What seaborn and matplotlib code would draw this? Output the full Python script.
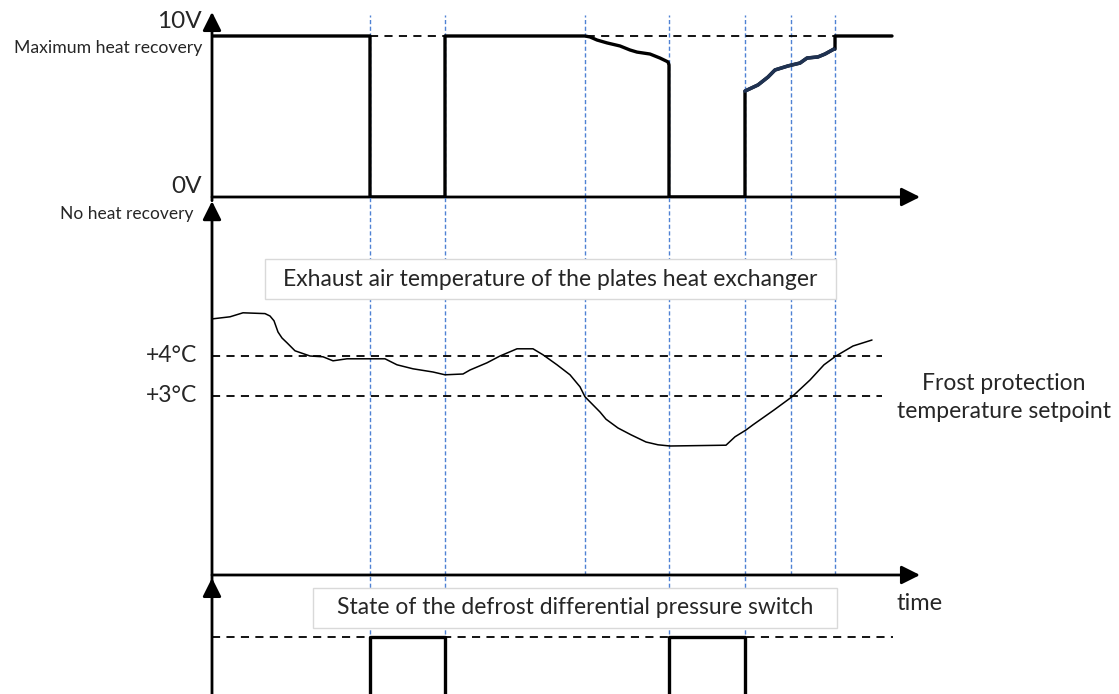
import numpy as np
import matplotlib
matplotlib.use("Agg")
import matplotlib.pyplot as plt
from matplotlib.patches import Rectangle
import seaborn as sns

# --- data (time in arbitrary units along the common time axis) ---
event_times = [158, 233, 373, 457, 533, 579, 623]
switch_event_times = [158, 233, 457, 533]

# heat recovery control signal (V)
heat_t = [0, 158, 158, 233, 233, 373, 378, 385, 395, 408, 418, 425, 438, 448, 456, 457,
          457, 533, 533, 546, 556, 563, 576, 588, 595, 606, 613, 622, 623, 623, 680]
heat_v = [10, 10, 0, 0, 10, 10, 9.94, 9.75, 9.57, 9.38, 9.13, 9.0, 8.88, 8.63, 8.39, 8.2,
          0, 0, 6.58, 6.96, 7.45, 7.89, 8.14, 8.32, 8.63, 8.70, 8.88, 9.19, 9.19, 10, 10]
ramp_t = [533, 546, 556, 563, 576, 588, 595, 606, 613, 622]
ramp_v = [6.58, 6.96, 7.45, 7.89, 8.14, 8.32, 8.63, 8.70, 8.88, 9.19]

# exhaust air temperature (deg C)
temp_t = [1, 18, 31, 53, 58, 62, 66, 70, 75, 83, 98, 111, 121, 135, 173, 185, 201, 221, 233,
          251, 258, 275, 288, 305, 321, 331, 345, 358, 368, 373, 388, 394, 406, 419, 434, 446,
          458, 514, 523, 534, 541, 562, 580, 598, 612, 624, 641, 660]
temp_c = [4.93, 4.98, 5.08, 5.06, 5.0, 4.88, 4.6, 4.45, 4.33, 4.13, 4.0, 3.98, 3.88, 3.93,
          3.93, 3.78, 3.68, 3.6, 3.53, 3.55, 3.65, 3.83, 4.0, 4.18, 4.18, 4.03, 3.78, 3.53,
          3.23, 2.98, 2.6, 2.42, 2.2, 2.03, 1.85, 1.78, 1.75, 1.77, 1.98, 2.15, 2.28, 2.65,
          2.98, 3.4, 3.78, 4.0, 4.25, 4.4]
setpoints = [4, 3]
setpoint_labels = ["+4°C", "+3°C"]

# defrost pressure switch state
switch_t = [0, 158, 158, 233, 233, 457, 457, 533, 533, 680]
switch_s = [0, 0, 1, 1, 0, 0, 1, 1, 0, 0]

sns.set_style("white")
plt.rcParams['font.family'] = ['Lato', 'DejaVu Sans']

W, H = 1119, 694
fig = plt.figure(figsize=(W / 100, H / 100), dpi=100)


def rect(x0, y0, x1, y1):
    return [x0 / W, 1 - y1 / H, (x1 - x0) / W, (y1 - y0) / H]


ax_top = fig.add_axes(rect(212, 12, 920, 197))
ax_mid = fig.add_axes(rect(212, 197, 920, 575))
ax_bot = fig.add_axes(rect(212, 575, 920, 694))

ax_top.set_ylim(0, 11.49)
ax_mid.set_ylim(-1.475, 7.975)
ax_bot.set_ylim(0.313, 1.747)

blue = "#4f82d4"
for ax in (ax_top, ax_mid, ax_bot):
    ax.set_xlim(0, 708)
    ax.set_axis_off()

# vertical event markers
bls = (0, (3, 1.8))
for t in event_times:
    ax_top.plot([t, t], [0, 11.3], color=blue, lw=1, ls=bls, zorder=1)
    ax_mid.axvline(t, color=blue, lw=1, ls=bls, zorder=1)
for t in switch_event_times:
    ax_bot.axvline(t, color=blue, lw=1, ls=bls, zorder=1)

dash = (0, (4.5, 3.5))
ax_top.plot([158, 680], [10, 10], color="black", lw=1.3, ls=dash, zorder=2)
for s in setpoints:
    ax_mid.plot([0, 670], [s, s], color="black", lw=1.3, ls=dash, zorder=2)
ax_bot.plot([0, 681], [1, 1], color="black", lw=1.3, ls=dash, zorder=2)

# signals
sns.lineplot(x=heat_t, y=heat_v, sort=False, estimator=None, color="black", lw=2.4, ax=ax_top, zorder=3)
sns.lineplot(x=ramp_t, y=ramp_v, sort=False, estimator=None, color="#1f3252", lw=2.6, ax=ax_top, zorder=4)
sns.lineplot(x=temp_t, y=temp_c, sort=False, estimator=None, color="black", lw=1.1, ax=ax_mid, zorder=3)
sns.lineplot(x=switch_t, y=switch_s, sort=False, estimator=None, color="black", lw=2.4, ax=ax_bot, zorder=3)

# axis arrows
arrow = dict(arrowstyle="-|>,head_length=0.7,head_width=0.35", lw=2, color="black",
             shrinkA=0, shrinkB=0, mutation_scale=16)
for ax, ytip in ((ax_top, 1.0), (ax_mid, 0.989), (ax_bot, 0.975)):
    ax.annotate("", xy=(0, ytip), xytext=(0, -0.02), xycoords="axes fraction",
                arrowprops=arrow, annotation_clip=False, zorder=5)
for ax in (ax_top, ax_mid):
    ax.annotate("", xy=(1, 0), xytext=(0, 0), xycoords="axes fraction",
                arrowprops=arrow, annotation_clip=False, zorder=5)


def ftext(x, y, s, **kw):
    fig.text(x / W, 1 - y / H, s, **kw)


ftext(202, 22, "10V", fontsize=17.5, ha="right", va="center")
ftext(202, 48, "Maximum heat recovery", fontsize=12.7, ha="right", va="center")
ftext(202, 187, "0V", fontsize=17.5, ha="right", va="center")
ftext(194, 214, "No heat recovery", fontsize=12.5, ha="right", va="center")
for s, lab in zip(setpoints, setpoint_labels):
    ftext(197, 356 + (4 - s) * 40, lab, fontsize=16.5, ha="right", va="center")
ftext(1004, 383, "Frost protection", fontsize=16.5, ha="center", va="center")
ftext(1004, 412, "temperature setpoint", fontsize=16.5, ha="center", va="center")
ftext(920, 603, "time", fontsize=17, ha="center", va="center")

for (x0, y0, x1, y1) in ((265, 259, 836, 299), (313, 588, 837, 628)):
    fig.add_artist(Rectangle((x0 / W, 1 - y1 / H), (x1 - x0) / W, (y1 - y0) / H,
                             transform=fig.transFigure, facecolor="white",
                             edgecolor="#d9d9d9", lw=1, zorder=6))
ftext(550, 280, "Exhaust air temperature of the plates heat exchanger", fontsize=16.5,
      ha="center", va="center", zorder=7)
ftext(575, 608, "State of the defrost differential pressure switch", fontsize=16.5,
      ha="center", va="center", zorder=7)

fig.savefig("out.png", dpi=100)
